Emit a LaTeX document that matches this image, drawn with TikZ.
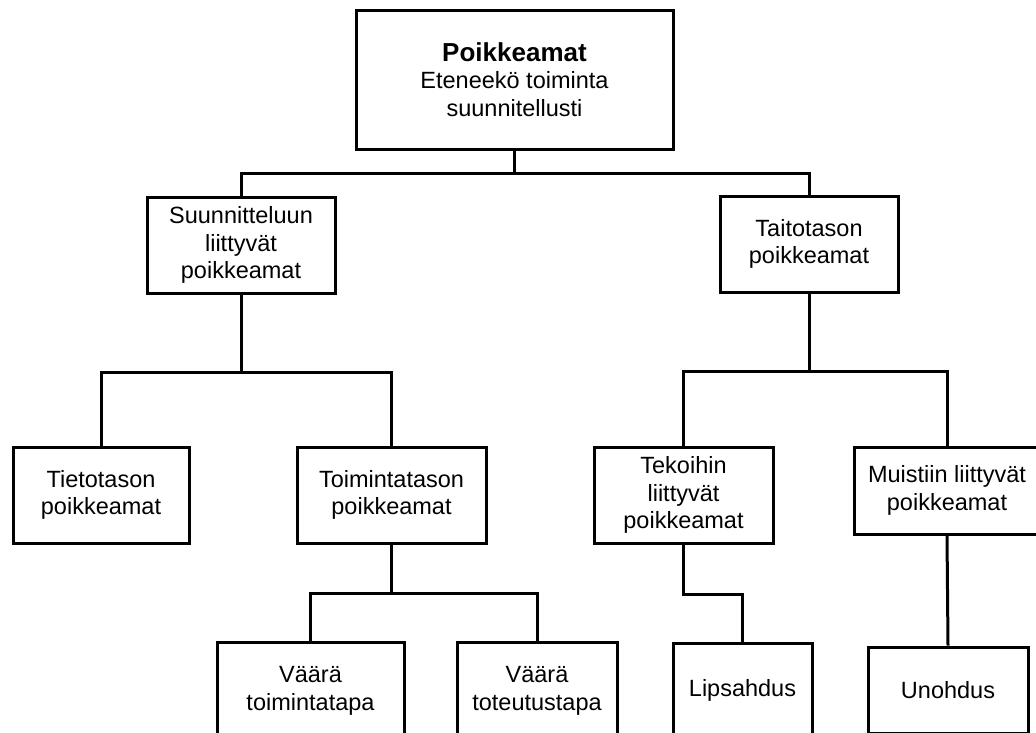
\documentclass[tikz,border=0pt]{standalone}
\usepackage{fontspec}
\setmainfont{Liberation Sans}
\usetikzlibrary{positioning}

\begin{document}
\begin{tikzpicture}[
    x=1pt, y=-1pt,
    % Box style for the tree nodes
    box/.style={rectangle, draw, line width=3pt, align=center, inner sep=2pt,
        font=\fontsize{23.5}{27.5}\selectfont},
    % Connector style
    conn/.style={line width=3pt},
]

% ============================================================
% Frame of the picture
% ============================================================
\useasboundingbox (0,0) rectangle (1036,732);
\clip (0,0) rectangle (1036,732);

% --- Root ---
\node[box, minimum width=317pt, minimum height=139pt] (top) at (514.5, 79.5)
    {{\fontsize{26}{29}\selectfont\textbf{Poikkeamat}}\\Eteneekö toiminta\\suunnitellusti};

% --- Second level ---
\node[box, minimum width=188pt, minimum height=96pt] (suun) at (241, 245)
    {Suunnitteluun\\liittyvät\\poikkeamat};
\node[box, minimum width=178pt, minimum height=96pt] (taito) at (809, 244)
    {Taitotason\\poikkeamat};

% --- Third level ---
\node[box, minimum width=176pt, minimum height=96pt] (tieto) at (101, 495)
    {Tietotason\\poikkeamat};
\node[box, minimum width=189pt, minimum height=96pt] (toim) at (391.5, 495)
    {Toimintatason\\poikkeamat};
\node[box, minimum width=179pt, minimum height=96pt] (teko) at (683.5, 495)
    {Tekoihin\\liittyvät\\poikkeamat};
\node[box, minimum width=186pt, minimum height=87pt] (muisti) at (947, 490.5)
    {Muistiin liittyvät\\poikkeamat};

% --- Fourth level (cut by the lower edge) ---
\node[box, minimum width=187pt, minimum height=98pt] (vtoim) at (310.5, 691)
    {Väärä\\toimintatapa};
\node[box, minimum width=160pt, minimum height=98pt] (vtot) at (537, 691)
    {Väärä\\toteutustapa};
\node[box, minimum width=139pt, minimum height=94pt] (lips) at (742.5, 690)
    {Lipsahdus};
\node[box, minimum width=160pt, minimum height=86pt] (unoh) at (948, 690)
    {Unohdus};

% ============================================================
% Connections
% ============================================================
% root -> second level
\draw[conn] (top.south) -- ++(0,23) coordinate (topj);
\draw[conn] (suun.north) |- (topj) -| (taito.north);

% Suunnitteluun -> Tieto / Toiminta
\draw[conn] (suun.south) -- ++(0,78) coordinate (suunj);
\draw[conn] (tieto.north) |- (suunj) -| (toim.north);

% Taitotason -> Tekoihin / Muistiin
\draw[conn] (taito.south) -- ++(0,78) coordinate (taitoj);
\draw[conn] (teko.north) |- (taitoj) -| (muisti.north);

% Toimintatason -> Väärä ...
\draw[conn] (toim.south) -- ++(0,49) coordinate (toimj);
\draw[conn] (vtoim.north) |- (toimj) -| (vtot.north);

% Tekoihin -> Lipsahdus (stepped)
\draw[conn] (teko.south) -- ++(0,50) -| (lips.north);

% Muistiin -> Unohdus
\draw[conn] (muisti.south) -- (unoh.north);

\end{tikzpicture}
\end{document}
